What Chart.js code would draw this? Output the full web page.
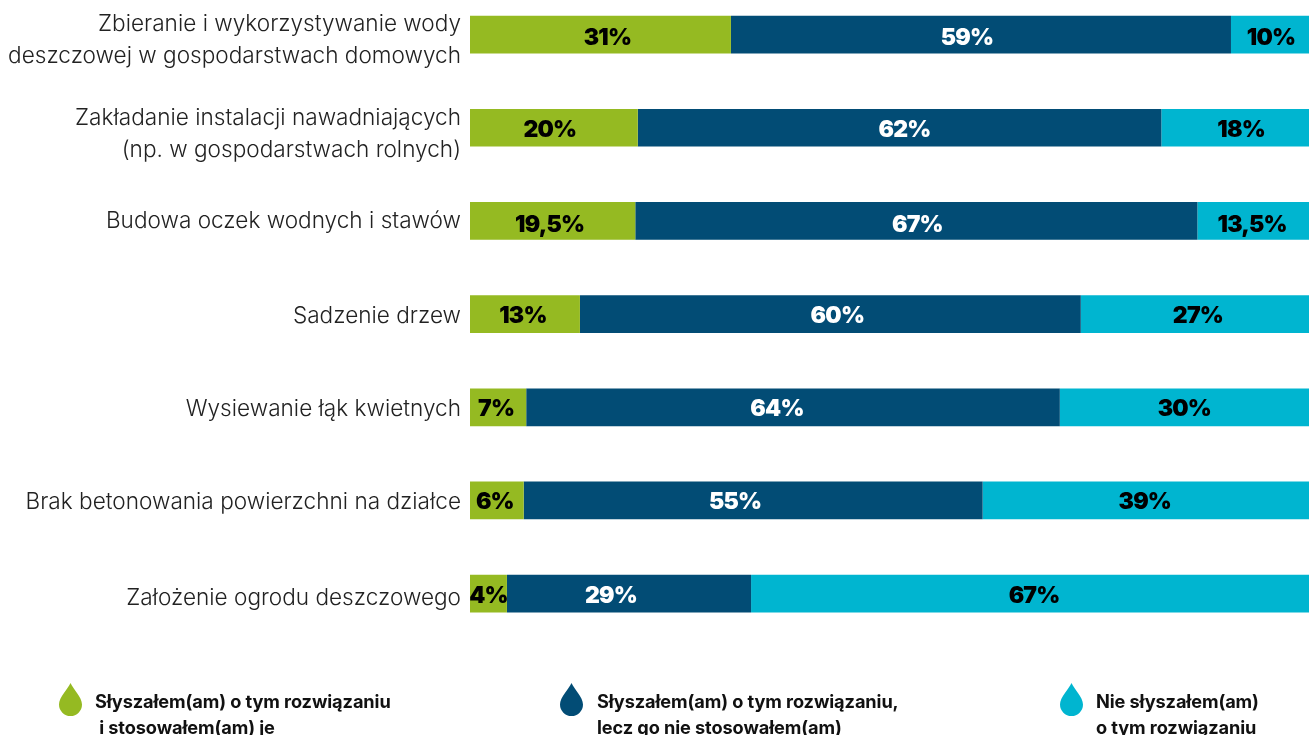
<!DOCTYPE html>
<html lang="pl">
<head>
<meta charset="utf-8">
<title>Wykres</title>
<script src="https://cdn.jsdelivr.net/npm/chart.js@4"></script>
<style>
    html, body { margin: 0; padding: 0; width: 1309px; height: 735px; overflow: hidden; background: #fff; }
    #chart { position: absolute; left: 0; top: -12px; }
    .legend-item { position: absolute; top: 683px; }
    .legend-item svg { position: absolute; left: 0; top: 0; }
    .legend-item div { position: absolute; top: 5px; white-space: pre; font: 700 18.2px/26px Inter, sans-serif; color: #111; letter-spacing: -0.1px; }
</style>
</head>
<body>
<canvas id="chart" width="1309" height="760"></canvas>
<div id="legend"></div>
<script>
const categories = [
    ["Zbieranie i wykorzystywanie wody", "deszczowej w gospodarstwach domowych"],
    ["Zakładanie instalacji nawadniających", "(np. w gospodarstwach rolnych)"],
    ["Budowa oczek wodnych i stawów"],
    ["Sadzenie drzew"],
    ["Wysiewanie łąk kwietnych"],
    ["Brak betonowania powierzchni na działce"],
    ["Założenie ogrodu deszczowego"]
];

// bar lengths
const heardAndUse = [31.1, 20.0, 19.7, 13.1, 6.7, 6.4, 4.4];
const heardNotUse = [59.6, 62.4, 67.0, 59.7, 63.6, 54.7, 29.1];
const notHeard = [9.3, 17.6, 13.3, 27.2, 29.7, 38.9, 66.5];

// percentages as printed on the bars
const heardAndUseText = ["31%", "20%", "19,5%", "13%", "7%", "6%", "4%"];
const heardNotUseText = ["59%", "62%", "67%", "60%", "64%", "55%", "29%"];
const notHeardText = ["10%", "18%", "13,5%", "27%", "30%", "39%", "67%"];

const legendLines = [
    ["Słyszałem(am) o tym rozwiązaniu", " i stosowałem(am) je"],
    ["Słyszałem(am) o tym rozwiązaniu,", "lecz go nie stosowałem(am)"],
    ["Nie słyszałem(am)", "o tym rozwiązaniu"]
];

const colors = ["#95ba22", "#024c75", "#00b5d0"];
const textColors = ["#000000", "#ffffff", "#000000"];
const barTexts = [heardAndUseText, heardNotUseText, notHeardText];

// the labels in the original are hand placed, not centred
const labelShiftX = [
    [7, -4, -3, -2, -2, -2, 0],
    [-14, 5, 1, 7, -16, -18, -18],
    [1, 6, -1, 3, 0, -1, 4]
];
const labelShiftY = [3, 2, 4, 2, 2, 2, 2];
const categoryShiftY = [6, 6, 0, 2, 2, 2, 5];

const categoryLabels = {
    id: "categoryLabels",
    afterDraw(chart) {
        const { ctx, scales: { y } } = chart;
        ctx.save();
        ctx.font = "300 22.6px Inter, sans-serif";
        ctx.fillStyle = "#222222";
        ctx.textAlign = "right";
        ctx.textBaseline = "middle";
        categories.forEach((lines, i) => {
            const mid = y.getPixelForTick(i) + categoryShiftY[i];
            lines.forEach((line, n) => {
                ctx.fillText(line, 461, mid + (n - (lines.length - 1) / 2) * 32);
            });
        });
        ctx.restore();
    }
};

const barLabels = {
    id: "barLabels",
    afterDatasetsDraw(chart) {
        const { ctx } = chart;
        ctx.save();
        ctx.font = "900 23px Inter, sans-serif";
        ctx.letterSpacing = "-0.8px";
        ctx.textAlign = "center";
        ctx.textBaseline = "middle";
        chart.data.datasets.forEach((ds, d) => {
            chart.getDatasetMeta(d).data.forEach((bar, i) => {
                const { x, y, base } = bar.getProps(["x", "y", "base"], true);
                ctx.fillStyle = textColors[d];
                ctx.fillText(barTexts[d][i], (x + base) / 2 + labelShiftX[d][i], y + labelShiftY[i]);
            });
        });
        ctx.restore();
    }
};

new Chart(document.getElementById("chart"), {
    type: "bar",
    data: {
        labels: categories,
        datasets: [
            { label: legendLines[0].join(" "), data: heardAndUse, backgroundColor: colors[0] },
            { label: legendLines[1].join(" "), data: heardNotUse, backgroundColor: colors[1] },
            { label: legendLines[2].join(" "), data: notHeard, backgroundColor: colors[2] }
        ]
    },
    options: {
        indexAxis: "y",
        responsive: false,
        animation: false,
        layout: { padding: { left: 0, right: 0, top: 0, bottom: 107.8 } },
        datasets: { bar: { barPercentage: 0.405, categoryPercentage: 1 } },
        plugins: { legend: { display: false }, tooltip: { enabled: false } },
        scales: {
            x: { stacked: true, display: false, min: 0, max: 100 },
            y: {
                stacked: true,
                grid: { display: false },
                border: { display: false },
                ticks: { display: false },
                afterFit(scale) { scale.width = 470; }
            }
        }
    },
    plugins: [categoryLabels, barLabels]
});

// legend with water drops
const legendX = [59, 560, 1060];
const legendTextX = [36, 37, 36];
const legend = document.getElementById("legend");
legendLines.forEach((lines, i) => {
    const item = document.createElement("div");
    item.className = "legend-item";
    item.style.left = legendX[i] + "px";
    item.innerHTML = `<svg width="23" height="33" viewBox="0 0 23 33"><path d="M11.5 0 C14 6 23 14 23 21.5 A11.5 11.5 0 0 1 0 21.5 C0 14 9 6 11.5 0 Z" fill="${colors[i]}"/></svg>`;
    const text = document.createElement("div");
    text.style.left = legendTextX[i] + "px";
    text.textContent = lines.join("\n");
    item.appendChild(text);
    legend.appendChild(item);
});
</script>
</body>
</html>
